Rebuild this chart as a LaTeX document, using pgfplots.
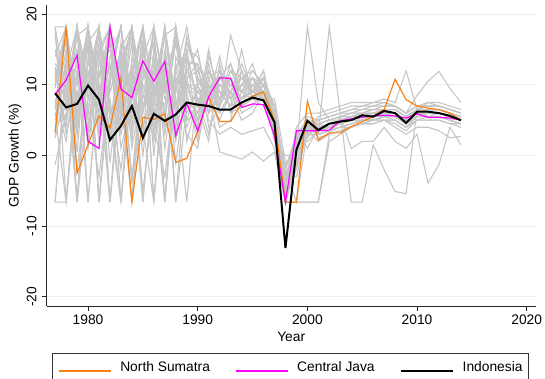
\documentclass[border=0pt]{standalone}
\usepackage{fontspec}
\setmainfont{Liberation Sans}
\usepackage{pgfplots}
\usepackage{pgfplotstable}
\pgfplotsset{compat=1.18}
\definecolor{graycol}{RGB}{198,198,198}
\definecolor{nscol}{RGB}{250,130,20}
\definecolor{cjcol}{RGB}{255,0,255}
\definecolor{gridcol}{RGB}{232,240,241}

\pgfplotstableread{
year ns cj id
1977 3.3 8.6 8.8
1978 18.2 10.7 6.8
1979 -2.5 14.2 7.3
1980 1.5 2.0 9.9
1981 5.6 1.0 7.9
1982 3.9 18.2 2.2
1983 10.9 9.4 4.2
1984 -6.6 8.2 7.0
1985 5.4 13.4 2.5
1986 5.1 10.5 5.9
1987 5.9 13.3 4.9
1988 -1.0 2.8 5.8
1989 -0.4 7.4 7.5
1990 3.4 3.5 7.2
1991 8.3 8.3 7.0
1992 4.8 11.0 6.5
1993 4.8 10.9 6.5
1994 7.4 6.8 7.5
1995 8.4 7.3 8.2
1996 9.0 7.2 7.8
1997 5.0 2.8 4.7
1998 -6.6 -6.6 -13.1
1999 -6.6 3.5 0.8
2000 7.7 3.5 4.9
2001 2.2 3.5 3.6
2002 3.2 3.6 4.5
2003 3.2 4.9 4.8
2004 4.1 5.2 5.0
2005 4.8 5.4 5.7
2006 5.5 5.6 5.5
2007 6.5 5.7 6.3
2008 10.8 5.6 6.0
2009 7.9 5.3 4.6
2010 7.0 5.9 6.2
2011 6.7 5.4 6.2
2012 6.5 5.4 6.0
2013 6.0 5.3 5.6
2014 5.0 5.0 5.0
}\maintab

\pgfplotstableread{
year g1 g2 g3 g4 g5 g6 g7 g8 g9 g10 g11 g12 g13 g14 g15 g16 g17 g18 g19 g20 g21 g22 g23 g24 g25 g26 g27 g28 g29 g30
1977 18.2 18.2 14 12 11 10 9 8.5 7.5 7 6 5 4 3 2.5 -1.3 -6.6 -6.6 12.5 15 9.5 8 6.5 13 17 10.5 5.5 18.2 -6.6 11
1978 18.2 9 18.2 4 18.2 16 5 12 10 18.2 -6.6 11 7 14 9 6 -6.6 13 3 8 18.2 2 15 10.5 7 18.2 13 -6.6 12 16.5
1979 5 18.2 8 18.2 -6.6 10 18.2 3 15 7 12 -6.6 18.2 4 13 17 9 -2 11 18.2 6 14 0.5 9 18.2 5 -6.6 12 18.2 3
1980 18.2 2 18.2 9 14 18.2 -6.6 16 5 18.2 10 8 3 12 -6.6 18.2 7 11 15 1 13 6 18.2 4 8 16 18.2 6 11 18.2
1981 -6.6 15 10 18.2 6 3 12 18.2 9 -6.6 17 14 18.2 5 11 8 -3 18.2 2 13 9.5 18.2 7 16 14 -6.6 8 18.2 15 4
1982 12 18.2 -6.6 7 18.2 14 9 2 16 10 5 18.2 -1 13 18.2 4 11 -6.6 8 15 3 6 18.2 12 3 11 18.2 9 -6.6 17
1983 18.2 6 13 -6.6 9 18.2 15 11 3 18.2 -6.6 8 12 4 7 16 18.2 10 -2 5 14 9 1 18.2 15 18.2 5 14 11 -6.6
1984 4 16 18.2 12 -6.6 7 2 18.2 10 5 14 -6.6 18.2 9 13 1 6 17 11 18.2 -4 12 8 3 18.2 8 12 -3 18.2 10
1985 16 -6.6 9 18.2 11 3 18.2 6 -6.6 13 8 15 4 18.2 0 10 12 2 18.2 7 14 -5 16 11 6 15 18.2 11 4 13
1986 7 12 4 8 17 18.2 -6.6 14 11 2 18.2 6 10 -6.6 15 5 9 13 0 12 18.2 8 3 16 18.2 4 9 16 -6.6 14
1987 18.2 9 -3 14 5 10 12 3 17 18.2 -6.6 11 7 13 8 18.2 -6.6 6 15 4 9 17 10 1 9 13 18.2 5 12 -6.6
1988 3 17 10 6 18.2 4 16 12 -6.6 8 14 2 18.2 9 11 6 13 16 -1 10 7 18.2 5 12 16 -6.6 7 18.2 9 11
1989 12 5 16 11 2 15 9 18.2 7 -6.6 10 13 6 14 4 12 8 10 11 3 15 9 17 7 5 14 11 8 16 10
1990 9 6 12 4 8 14 2 10 7 11 5 13 9 3 8 15 6 10 12 1 7 9 11 5 10 8 13 6 11 9
1991 7 10 8 12 3 9 11 6 13 8 14 4 7 10 9 6 12 5 8 11 2 10 7 9 12 7 9 15 8 10
1992 10 8 5 9 11 7 12 8 6 14 9 7 11 4 10 12 8 3 9 7 13 6 10 0.5 8 11 10 7 12 9
1993 8 12 9 7 10 17 6 11 9 8 7 10 13 5 9 8 11 4 7 12 6 9 10 0 13 9 8 11 10 7
1994 11 9 7 10 8 12 9 6 11 10 8 9 7 12 5 10 9 3 8 11 7 13 9 -0.5 9 12 10 8 11 15
1995 9 10 8 11 9 8 10 7 12 9 11 8 10 9 6 11 8 3.5 9 10 8 9 12 0.5 11 8 13 10 9 8
1996 8 9 10 8 11 9 8 9 10 12 9 7 8 10 9 8 10 4 9 8 11 9 10 -0.8 10 9 8 11 12 9
1997 6 5 7 4 6 5 8 3 6 5 7 4 5 6 2 7 5 1 4 6 3 5 7 0.5 4 6 5 7 3 5
1998 -6.6 -5 -3 -6.6 -2 -4 -1 -6.6 -5.5 -3.5 -6.6 -2.5 -4.5 -6.6 0 -3 -5 -6.6 -6.6 -4 -2 -6.6 -3 -6.6 -3.5 -6.6 -1.5 -4 -6.6 -2
1999 0 -2 1 2 -6.6 3 0.5 1.5 -1 2.5 1 -3 2 3.5 0 1 4 -6.6 2 1.5 3 -1.5 2.5 -6.6 1 -1 2 0.5 1.5 3
2000 3 4 2.5 5 3.5 4.5 18.2 3 4 2 5 3.5 4 1 4.5 3 6 -6.6 4 3 5 3.5 4.5 -6.6 4 3 5.5 4 2.5 5
2001 4 3.5 4.5 3 5 4 7.5 3 4.5 3.5 4 5.5 3 4 2.5 4 6 -6.6 4.5 3 5 2 3.5 -6.6 3.5 4 5 3 4.5 4.5
2002 4.5 4 5 3.5 5.5 4 5 3.5 5 4 4.5 6 18.2 4.5 3 4.5 6.5 2 5 3.5 5.5 3 4 3 4 4.5 5.5 3.5 4 5
2003 5 4.5 5.5 4 6 4.5 5.5 4 5 4.5 5 6.5 6 5 3.5 5 7 3 5.5 4 6 3.5 4.5 5.5 4.5 5 6 4 5 5.5
2004 5 5 6 4.5 6.5 5 5.5 4 5.5 5 5.5 7 -6.6 5 4 5.5 7.5 4 5.5 4.5 6 4 5 1 5 5.5 6.5 4.5 5 6
2005 5.5 5 6 5 7 5.5 6 4.5 5.5 5 5.5 7 -6.6 5.5 4.5 6 7.5 4.5 6 5 6.5 4.5 5.5 2 5 5.5 6.5 5 5.5 6
2006 5.5 5.5 6.5 5 7 5.5 6 5 6 5 6 7.5 1.5 5.5 4.5 6 7.5 5 6 5 6.5 4.5 5.5 2 5.5 6 7 5 5.5 6.5
2007 6 5.5 6.5 5.5 7.5 6 6.5 5 6 5.5 6 7.5 -2 6 5 6.5 8 5 6.5 5.5 7 5 6 4 6 6 7 5.5 6 6.5
2008 6 5.5 6.5 5.5 7 6 6.5 5 6 5.5 6 7 -5.1 5.5 5 6.5 7.5 4 6 5 7 4.5 6 2 5.5 6 7 5.5 6 6.5
2009 5 4.5 5.5 4.5 6 5 5.5 4 5 4.5 5 6 -5.4 4.5 4 5.5 12 3 5 4 6 3.5 5 1 4.5 5 6 4.5 5 5.5
2010 6 5.5 6.5 5.5 8.5 6 6.5 5 6 5.5 6 7 6.4 6 5 6.5 6.5 4 6.5 5.5 7 5 6 3 5.5 6 7 5.5 6 6.5
2011 6 6 6.5 5.5 10.5 6 6.5 5.5 6 6 6.5 7.5 5.5 6 5 7 7.5 4 6.5 5.5 7 5 6 -3.9 6 6.5 7 5.5 6 6.5
2012 6 6 6.5 5.5 11.9 6 6.5 5.5 6 6 6.5 7.5 6 6 5 7 7 3.5 6.5 5.5 7 5 6 -1.3 6 6.5 7 5.5 6 6.5
2013 5.5 5.5 6 5 9.5 5.5 6 5 5.5 5.5 6 7 5.8 5.5 4.5 6.5 6.5 2.5 6 5 6.5 4.5 5.5 4 5.5 6 6.5 5 5.5 6
2014 5 5 5.5 4.5 7.5 5 5.5 4.5 5 5 5.5 6.5 5.5 5 4.5 6 6 2.7 5.5 4.5 6 4 5 1.5 5 5.5 6 4.5 5 5.5
}\graytab

\begin{document}
\fontsize{13.8}{16.5}\selectfont
\begin{tikzpicture}
\begin{axis}[
  scale only axis, width=489pt, height=301pt,
  xmin=1976.23, xmax=2020.82, ymin=-21.3, ymax=21.3,
  axis x line*=bottom, axis y line*=left,
  axis line style={-, line width=0.9pt, black!85},
  xtick={1980,1990,2000,2010,2020},
  xticklabels={1980,1990,2000,2010,2020},
  ytick={-20,-10,0,10,20},
  yticklabels={-20,-10,0,10,20},
  tick align=outside, major tick length=5pt,
  tick style={line width=0.9pt, black!85},
  yticklabel style={xshift=-5pt, rotate=90, anchor=south, inner sep=0pt},
  xticklabel style={anchor=north, inner sep=0pt, yshift=-4pt},
  ymajorgrids, grid style={gridcol, line width=1pt},
  xlabel={Year}, ylabel={GDP Growth (\%)},
  xlabel style={at={(axis description cs:0.5,-0.102)}, anchor=center, inner sep=0pt},
  ylabel style={at={(axis description cs:-0.0648,0.5)}, anchor=center, rotate=0, inner sep=0pt},
  legend columns=3,
  legend image code/.code={\draw[#1] (0pt,0pt) -- (52pt,0pt);},
  legend style={at={(axis description cs:0.0102,-0.155)}, anchor=north west,
    draw=black!80, line width=0.8pt, inner xsep=6pt, inner ysep=8pt,
    nodes={inner sep=0pt, anchor=base west},
    /tikz/every odd column/.append style={column sep=9pt},
    /tikz/every even column/.append style={column sep=25pt}},
]
\pgfplotsinvokeforeach{1,...,30}{
  \addplot[graycol, line width=1.1pt, forget plot] table[x=year, y=g#1]{\graytab};
}
\addplot[nscol, line width=1.2pt] table[x=year, y=ns]{\maintab};
\addlegendentry{North Sumatra}
\addplot[cjcol, line width=1.2pt] table[x=year, y=cj]{\maintab};
\addlegendentry{Central Java}
\addplot[black, line width=2pt] table[x=year, y=id]{\maintab};
\addlegendentry{Indonesia}
\end{axis}
\pgfresetboundingbox
\path[use as bounding box] ([xshift=-46.7pt,yshift=-72pt]current axis.south west) rectangle ([xshift=9.3pt,yshift=5pt]current axis.north east);
\end{tikzpicture}
\end{document}
